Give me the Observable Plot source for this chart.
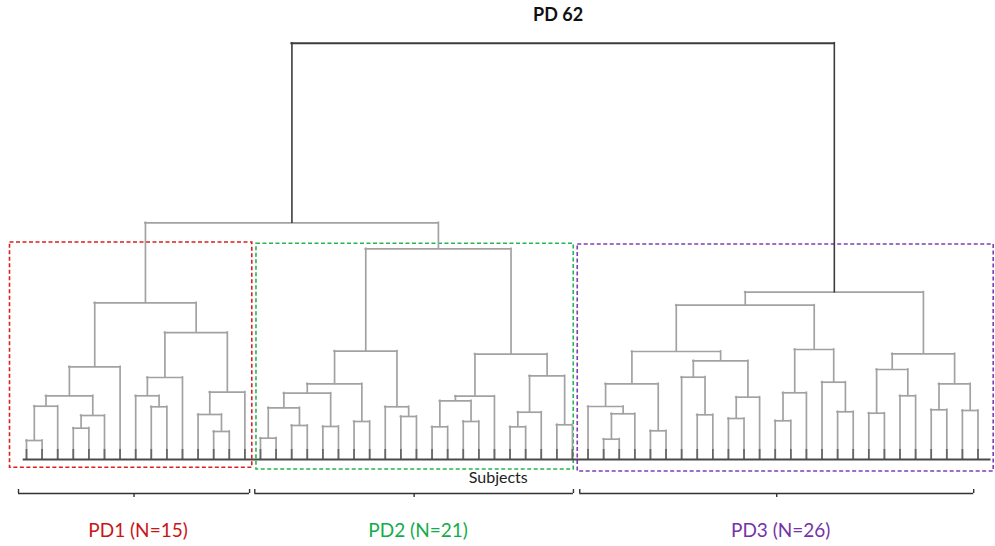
<!DOCTYPE html>
<html>
<head>
<meta charset="utf-8">
<script src="https://cdn.jsdelivr.net/npm/d3@7"></script>
<script src="https://cdn.jsdelivr.net/npm/@observablehq/plot@0.6"></script>
<style>
  html, body { margin: 0; padding: 0; background: #ffffff; }
  #chart svg { display: block; }
</style>
</head>
<body>
<div id="chart"></div>
<script>
// ---------------- DATA ----------------
const chartTitle = "PD 62";
const axisLabel = "Subjects";
const leafCount = 62;

// Linkage (scipy style): leaves are 0..61, merge i creates cluster id 62 + i
const mergeA = [
  0, 62, 3, 64, 63, 66, 8, 7, 69, 12, 11, 72, 70, 67,            // PD1
  15, 17, 76, 19, 78, 21, 80, 24, 23, 82, 26, 28, 86, 88, 31, 90, 34, 91, 89, 85, // PD2
  75,                                                              // PD1+PD2
  37, 97, 36, 40, 99, 43, 42, 45, 104, 103, 101, 48, 108, 52, 51, 109, 54, 56, 113, 58, 60, 116, 115, 107, 120, // PD3
  96                                                               // root
];
const mergeB = [
  1, 2, 4, 5, 65, 6, 9, 68, 10, 13, 71, 14, 73, 74,
  16, 18, 77, 20, 79, 22, 81, 25, 83, 84, 27, 29, 87, 30, 32, 33, 35, 92, 93, 94,
  95,
  38, 39, 98, 41, 100, 44, 102, 46, 47, 105, 106, 49, 50, 53, 110, 111, 55, 57, 114, 59, 61, 117, 118, 112, 119,
  121
];
const mergeHeight = [
  4.56, 12.80, 7.52, 10.57, 15.30, 22.27, 12.66, 15.30, 19.70, 6.73, 10.81, 16.17, 30.50, 37.64,
  5.12, 8.17, 12.42, 7.93, 15.93, 9.13, 18.18, 10.33, 12.66, 26.01, 7.85, 9.13, 14.10, 15.20, 7.85, 11.36, 8.34, 20.10, 25.29, 50.61,
  56.86,
  4.88, 10.98, 12.73, 6.89, 18.18, 10.74, 19.77, 9.85, 14.97, 23.71, 25.94, 9.30, 16.02, 11.46, 18.57, 26.42, 11.12, 15.30, 21.62, 11.94, 11.77, 18.18, 25.39, 37.06, 40.19,
  100
];

const groupNames = ["PD1 (N=15)", "PD2 (N=21)", "PD3 (N=26)"];
const groupFirstLeaf = [0, 15, 36];
const groupLastLeaf = [14, 35, 61];

// ---------------- STYLE / LAYOUT ----------------
const W = 995, H = 546;
const mL = 26, mR = 17.5, mT = 42.7, mB = 87;
const unit = (H - mT - mB) / 100;            // px per height unit
const step = (W - mL - mR) / (leafCount - 1); // px per leaf
const ux = p => p / step;                    // px -> x units
const uy = p => p / unit;                    // px -> y units

const boxColors = ["#dc1f1f", "#27b550", "#7d3fb8"];
const textColors = ["#c81616", "#14ac4b", "#7434a8"];
const boxLayout = [
  {padL: 16.5, padR: 7.4, top: 217, bottom: 8.3},
  {padL: 4.0, padR: 1.3, top: 215.7, bottom: 10},
  {padL: 10.3, padR: 15.7, top: 215, bottom: 12}
];
const bracketLayout = [
  {padL: 8, padR: 4.7},
  {padL: 5.7, padR: 1},
  {padL: 8.3, padR: -4.3}
];
const gray = "#a2a2a2", dark = "#3c3c3c";
const font = "Lato, 'Open Sans', sans-serif";

// ---------------- BUILD TREE ----------------
const nodeX = d3.range(leafCount).map(i => i);
const nodeH = d3.range(leafCount).map(() => 0);
const verticals = [], horizontals = [];
mergeA.forEach((a, i) => {
  const b = mergeB[i], h = mergeHeight[i];
  const isRoot = i === mergeA.length - 1;
  verticals.push({x: nodeX[a], y1: nodeH[a], y2: h, root: isRoot});
  verticals.push({x: nodeX[b], y1: nodeH[b], y2: h, root: isRoot});
  horizontals.push({y: h, x1: nodeX[a], x2: nodeX[b], root: isRoot});
  nodeX.push((nodeX[a] + nodeX[b]) / 2);
  nodeH.push(h);
});
const rootX = nodeX[nodeX.length - 1];

const groups = groupNames.map((name, i) => {
  const bl = boxLayout[i], br = bracketLayout[i];
  const bx1 = groupFirstLeaf[i] - ux(br.padL), bx2 = groupLastLeaf[i] + ux(br.padR);
  return {
    name, color: boxColors[i], textColor: textColors[i],
    x1: groupFirstLeaf[i] - ux(bl.padL), x2: groupLastLeaf[i] + ux(bl.padR),
    y1: -uy(bl.bottom), y2: uy(bl.top),
    bx1, bx2, bmid: (bx1 + bx2) / 2
  };
});

const bracketY = -uy(34), bracketUp = -uy(30), bracketDown = -uy(38);
const bracketH = groups.map(g => ({y: bracketY, x1: g.bx1, x2: g.bx2}));
const bracketV = groups.flatMap(g => [
  {x: g.bx1, y1: bracketY, y2: bracketUp},
  {x: g.bx2, y1: bracketY, y2: bracketUp},
  {x: g.bmid, y1: bracketY, y2: bracketDown}
]);

const leaves = d3.range(leafCount).map(i => ({x: i}));
const baseline = [{y: 0, x1: -ux(3.3), x2: leafCount - 1 + ux(13)}];

const chart = Plot.plot({
  width: W, height: H,
  marginLeft: mL, marginRight: mR, marginTop: mT, marginBottom: mB,
  x: {domain: [0, leafCount - 1], axis: null},
  y: {domain: [0, 100], axis: null},
  style: {background: "#ffffff", fontFamily: font},
  marks: [
    // group boxes
    Plot.rect(groups, {x1: "x1", x2: "x2", y1: "y1", y2: "y2", fill: "none",
      stroke: "color", strokeWidth: 1.6, strokeDasharray: "4,2.5"}),
    // dendrogram
    Plot.ruleX(verticals.filter(d => !d.root), {x: "x", y1: "y1", y2: "y2", stroke: gray, strokeWidth: 1.7, strokeLinecap: "square"}),
    Plot.ruleY(horizontals.filter(d => !d.root), {y: "y", x1: "x1", x2: "x2", stroke: gray, strokeWidth: 1.7, strokeLinecap: "square"}),
    Plot.ruleX(verticals.filter(d => d.root), {x: "x", y1: "y1", y2: "y2", stroke: dark, strokeWidth: 1.6, strokeLinecap: "square"}),
    Plot.ruleY(horizontals.filter(d => d.root), {y: "y", x1: "x1", x2: "x2", stroke: dark, strokeWidth: 2, strokeLinecap: "square"}),
    // axis baseline and leaf ticks
    Plot.ruleX(leaves, {x: "x", y1: 0, y2: uy(10), stroke: "#666", strokeWidth: 1.7}),
    Plot.ruleY(baseline, {y: "y", x1: "x1", x2: "x2", stroke: "#4a4a4a", strokeWidth: 2}),
    // brackets under groups
    Plot.ruleY(bracketH, {y: "y", x1: "x1", x2: "x2", stroke: "#333", strokeWidth: 1.4}),
    Plot.ruleX(bracketV, {x: "x", y1: "y1", y2: "y2", stroke: "#333", strokeWidth: 1.4}),
    // texts
    Plot.text([chartTitle], {x: rootX, y: 100 + uy(27.7), dx: -5, text: d => d,
      fontSize: 18, fontWeight: "bold", fill: "#111", fontFamily: font}),
    Plot.text([axisLabel], {x: (leafCount - 1) / 2, y: -uy(18.2), dx: -4, text: d => d,
      fontSize: 16, fill: "#222", fontFamily: font}),
    Plot.text(groups, {x: "bmid", y: -uy(71.3), dx: 4, text: "name", fill: "textColor",
      fontSize: 19, fontFamily: font})
  ]
});
document.getElementById("chart").appendChild(chart);
</script>
</body>
</html>
